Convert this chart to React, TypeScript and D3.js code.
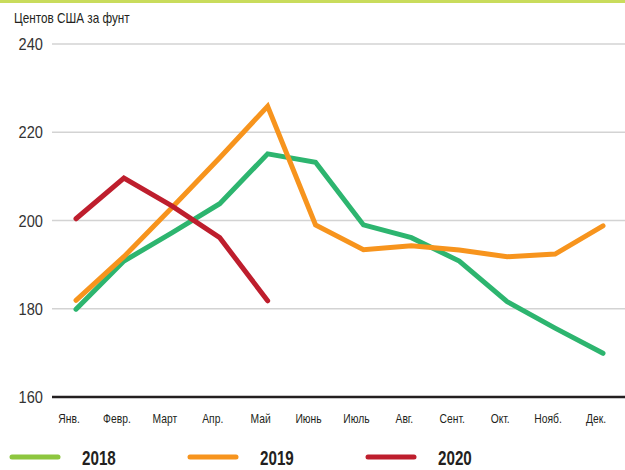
import { useRef, useEffect } from "react";
import * as d3 from "d3";

const months = ["Янв.", "Февр.", "Март", "Апр.", "Май", "Июнь", "Июль", "Авг.", "Сент.", "Окт.", "Нояб.", "Дек."];
const yTicks = [160, 180, 200, 220, 240];

const values2018 = [179.9, 190.8, 197.2, 203.8, 215.1, 213.2, 199.0, 196.1, 190.8, 181.6, 175.6, 169.9];
const values2019 = [181.9, 191.8, 202.9, 214.2, 225.9, 199.0, 193.4, 194.3, 193.3, 191.8, 192.4, 198.8];
const values2020 = [200.4, 209.6, 203.3, 196.1, 181.8];

const years = ["2018", "2019", "2020"];
const lineColors = ["#2db56f", "#f7941d", "#be1e2d"];
const legendColors = ["#8dc63f", "#f7941d", "#be1e2d"];

const font = "'Liberation Sans', Arial, sans-serif";

const App = () => {
  const chartRef = useRef<SVGSVGElement | null>(null);

  useEffect(() => {
    if (chartRef.current === null) return;
    const svg = d3.select(chartRef.current);
    svg.selectAll("*").remove();

    const width = 625;

    const x = d3.scalePoint<string>().domain(months).range([76, 603]);
    const y = d3.scaleLinear().domain([160, 240]).range([397, 44]);

    // narrow text: squeeze horizontally like a condensed face
    const squeeze = (px: number, py: number, k: number) => `translate(${px},${py}) scale(${k},1)`;

    // top band
    svg.append("rect").attr("x", 0).attr("y", 0).attr("width", width).attr("height", 3).attr("fill", "#c9dc5c");

    // title
    svg
      .append("text")
      .attr("transform", squeeze(14, 23, 0.84))
      .attr("font-family", font)
      .attr("font-size", 14)
      .attr("fill", "#231f20")
      .text("Центов США за фунт");

    // grid lines
    svg
      .selectAll(".grid")
      .data(yTicks.filter((t) => t !== 160))
      .enter()
      .append("line")
      .attr("x1", 52)
      .attr("x2", width)
      .attr("y1", (d) => y(d))
      .attr("y2", (d) => y(d))
      .attr("stroke", "#d3d3d3")
      .attr("stroke-width", 1.3);

    // baseline
    svg
      .append("line")
      .attr("x1", 52)
      .attr("x2", width)
      .attr("y1", y(160))
      .attr("y2", y(160))
      .attr("stroke", "#231f20")
      .attr("stroke-width", 2.5);

    // y labels
    svg
      .selectAll(".ylab")
      .data(yTicks)
      .enter()
      .append("text")
      .attr("transform", (d) => squeeze(43, y(d) + 6, 0.86))
      .attr("text-anchor", "end")
      .attr("font-family", font)
      .attr("font-size", 17)
      .attr("fill", "#333")
      .text((d) => d);

    // month labels
    svg
      .selectAll(".xlab")
      .data(months)
      .enter()
      .append("text")
      .attr("transform", (d) => squeeze((x(d) ?? 0) - 7, 423, 0.86))
      .attr("text-anchor", "middle")
      .attr("font-family", font)
      .attr("font-size", 12)
      .attr("fill", "#231f20")
      .text((d) => d);

    const line = d3
      .line<number>()
      .x((_, i) => x(months[i]) ?? 0)
      .y((d) => y(d));

    [values2018, values2019, values2020].forEach((vals, i) => {
      svg
        .append("path")
        .attr("d", line(vals))
        .attr("fill", "none")
        .attr("stroke", lineColors[i])
        .attr("stroke-width", 5)
        .attr("stroke-linecap", "round")
        .attr("stroke-linejoin", "miter");
    });

    // legend
    const legend = svg
      .selectAll(".legend")
      .data(years)
      .enter()
      .append("g")
      .attr("transform", (_, i) => `translate(${10 + i * 178},457)`);

    legend
      .append("line")
      .attr("x1", 2)
      .attr("x2", 48)
      .attr("y1", 0)
      .attr("y2", 0)
      .attr("stroke", (_, i) => legendColors[i])
      .attr("stroke-width", 5)
      .attr("stroke-linecap", "round");

    legend
      .append("text")
      .attr("transform", squeeze(72, 8, 0.76))
      .attr("font-family", font)
      .attr("font-size", 20)
      .attr("font-weight", "bold")
      .attr("fill", "#231f20")
      .text((d) => d);
  }, []);

  return (
    <svg
      ref={chartRef}
      width={625}
      height={470}
      style={{ position: "absolute", left: 0, top: 0, background: "#fff" }}
    />
  );
};

export default App;
